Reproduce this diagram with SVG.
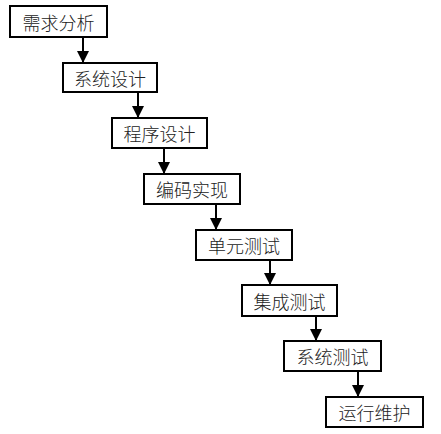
<svg xmlns="http://www.w3.org/2000/svg" width="441" height="434" viewBox="0 0 441 434">
<defs>
<style>
.box{fill:#fff;stroke:#000;stroke-width:2}
.lbl{font-family:"Noto Sans CJK SC",sans-serif;font-size:18px;font-weight:300;fill:#222;text-anchor:middle;dominant-baseline:central}
.ln{stroke:#000;stroke-width:2;fill:none}
</style>
<marker id="ah" viewBox="0 0 10 10" refX="10" refY="5" markerWidth="6" markerHeight="6" orient="auto" markerUnits="strokeWidth"><path d="M0,0 L10,5 L0,10 Z" fill="#000"/></marker>
</defs>
<rect width="441" height="434" fill="#fff"/>
<g id="connectors">
<line class="ln" x1="83" y1="37" x2="83" y2="63" marker-end="url(#ah)"/>
<line class="ln" x1="138" y1="92" x2="138" y2="118" marker-end="url(#ah)"/>
<line class="ln" x1="164" y1="148" x2="164" y2="174" marker-end="url(#ah)"/>
<line class="ln" x1="216" y1="204" x2="216" y2="230" marker-end="url(#ah)"/>
<line class="ln" x1="270" y1="260" x2="270" y2="285" marker-end="url(#ah)"/>
<line class="ln" x1="316" y1="316" x2="316" y2="341" marker-end="url(#ah)"/>
<line class="ln" x1="358" y1="371" x2="358" y2="397" marker-end="url(#ah)"/>
</g>
<g id="n1"><rect class="box" x="10" y="6" width="97" height="31"/><text class="lbl" x="58.5" y="21.5">需求分析</text></g>
<g id="n2"><rect class="box" x="63" y="63" width="94" height="29"/><text class="lbl" x="110" y="77.5">系统设计</text></g>
<g id="n3"><rect class="box" x="112" y="118" width="95" height="30"/><text class="lbl" x="159.5" y="133">程序设计</text></g>
<g id="n4"><rect class="box" x="144" y="174" width="96" height="30"/><text class="lbl" x="192" y="189">编码实现</text></g>
<g id="n5"><rect class="box" x="196" y="230" width="96" height="30"/><text class="lbl" x="244" y="245">单元测试</text></g>
<g id="n6"><rect class="box" x="242" y="285" width="95" height="31"/><text class="lbl" x="289.5" y="300.5">集成测试</text></g>
<g id="n7"><rect class="box" x="284" y="341" width="97" height="30"/><text class="lbl" x="332.5" y="356">系统测试</text></g>
<g id="n8"><rect class="box" x="326" y="397" width="97" height="30"/><text class="lbl" x="374.5" y="412">运行维护</text></g>
</svg>
